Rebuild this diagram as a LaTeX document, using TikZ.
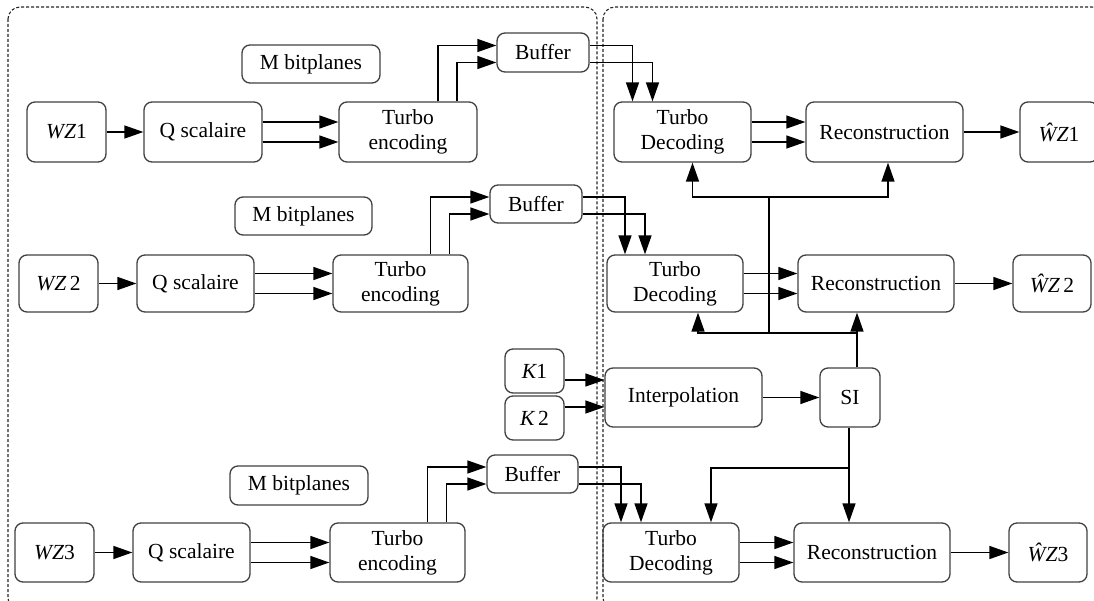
\documentclass[tikz,border=0pt]{standalone}
\usepackage{fontspec}
\setmainfont{Liberation Serif}
\newfontfamily\lserif{Liberation Serif}
\usetikzlibrary{arrows.meta,calc}
\begin{document}
\begin{tikzpicture}[x=1pt,y=-1pt,
  box/.style={draw=black!75, line width=1.3pt, rounded corners=8pt, inner sep=0pt, align=center, font=\lserif\fontsize{21.5}{25}\selectfont},
  arr/.style={line width=1.4pt, -{Triangle[length=19pt,width=13pt]}},
  ln/.style={line width=1.4pt},
  frm/.style={draw=black!85, line width=1.1pt, dash pattern=on 3pt off 2pt, rounded corners=12pt}]
\clip (0,0) rectangle (1094,601);
\useasboundingbox (0,0) rectangle (1094,601);

% frames
\draw[frm] (8,7) rectangle (597,610);
\draw[frm] (603,7) rectangle (1104,610);

% row 1
\node[box, minimum width=79pt, minimum height=60pt] (wz1) at (66.5,132) {{\itshape WZ}1};
\node[box, minimum width=118pt, minimum height=60pt] (q1) at (203,132) {Q scalaire};
\node[box, minimum width=138pt, minimum height=60pt] (te1) at (408,132) {Turbo\\encoding};
\node[box, minimum width=138pt, minimum height=38pt] (mb1) at (311,64) {M bitplanes};
\node[box, minimum width=92pt, minimum height=39pt] (buf1) at (543,52.5) {Buffer};
\node[box, minimum width=137pt, minimum height=60pt] (td1) at (682.5,132) {Turbo\\Decoding};
\node[box, minimum width=157pt, minimum height=60pt] (rc1) at (884.5,132) {Reconstruction};
\node[box, minimum width=78pt, minimum height=60pt] (out1) at (1059,132) {{\itshape ŴZ}1};

% row 2
\node[box, minimum width=79pt, minimum height=57pt] (wz2) at (58.5,283.5) {{\itshape WZ}\,2};
\node[box, minimum width=117pt, minimum height=57pt] (q2) at (195.5,283.5) {Q scalaire};
\node[box, minimum width=135pt, minimum height=57pt] (te2) at (400.5,283.5) {Turbo\\encoding};
\node[box, minimum width=137pt, minimum height=38pt] (mb2) at (303.5,216) {M bitplanes};
\node[box, minimum width=92pt, minimum height=38pt] (buf2) at (536,204) {Buffer};
\node[box, minimum width=136pt, minimum height=57pt] (td2) at (675,283.5) {Turbo\\Decoding};
\node[box, minimum width=156pt, minimum height=57pt] (rc2) at (876,283.5) {Reconstruction};
\node[box, minimum width=78pt, minimum height=57pt] (out2) at (1052,283.5) {{\itshape ŴZ}\,2};

% middle
\node[box, minimum width=59pt, minimum height=44pt] (k1) at (534.5,371) {{\itshape K}1};
\node[box, minimum width=59pt, minimum height=44pt] (k2) at (534.5,418) {{\itshape K}\,2};
\node[box, minimum width=157pt, minimum height=59pt] (interp) at (683.5,397.5) {Interpolation};
\node[box, minimum width=60pt, minimum height=59pt] (si) at (850,397.5) {SI};

% row 3
\node[box, minimum width=79pt, minimum height=59pt] (wz3) at (54.5,552.5) {{\itshape WZ}3};
\node[box, minimum width=117pt, minimum height=59pt] (q3) at (191.5,552.5) {Q scalaire};
\node[box, minimum width=135pt, minimum height=59pt] (te3) at (397.5,552.5) {Turbo\\encoding};
\node[box, minimum width=138pt, minimum height=39pt] (mb3) at (299,485.5) {M bitplanes};
\node[box, minimum width=91pt, minimum height=38pt] (buf3) at (532.5,474) {Buffer};
\node[box, minimum width=136pt, minimum height=59pt] (td3) at (671,552.5) {Turbo\\Decoding};
\node[box, minimum width=156pt, minimum height=59pt] (rc3) at (872,552.5) {Reconstruction};
\node[box, minimum width=78pt, minimum height=59pt] (out3) at (1048,552.5) {{\itshape ŴZ}3};

% row connectors
\foreach \r in {1,2,3}{
  \draw[arr] (wz\r.east) -- (q\r.west);
  \draw[arr] ([yshift=10pt]q\r.east) -- ([yshift=10pt]te\r.west);
  \draw[arr] ([yshift=-10pt]q\r.east) -- ([yshift=-10pt]te\r.west);
  \draw[arr] ([xshift=30pt]te\r.north) |- ([yshift=7pt]buf\r.west);
  \draw[arr] ([xshift=49pt]te\r.north) |- ([yshift=-10pt]buf\r.west);
  \draw[arr] ([yshift=7pt]buf\r.east) -| ([xshift=-50pt]td\r.north);
  \draw[arr] ([yshift=-10pt]buf\r.east) -| ([xshift=-30pt]td\r.north);
  \draw[arr] ([yshift=10pt]td\r.east) -- ([yshift=10pt]td\r.east -| rc\r.west);
  \draw[arr] ([yshift=-10pt]td\r.east) -- ([yshift=-10pt]td\r.east -| rc\r.west);
  \draw[arr] (rc\r.east) -- (out\r.west);
}

% K inputs
\draw[arr] ([yshift=-9pt]k1.east) -- ([yshift=-9pt]k1.east -| interp.west);
\draw[arr] ([yshift=11pt]k2.east) -- ([yshift=11pt]k2.east -| interp.west);
\draw[arr] (interp.east) -- (si.west);

% side information distribution
\coordinate (j2) at (857,333);
\coordinate (j1b) at (769,333);
\coordinate (j1) at (769,197);
\coordinate (j3) at (849,468);
\draw[arr] ([xshift=7pt]si.north) -- ([xshift=7pt]si.north |- rc2.south);
\draw[arr] (j2) -| ([xshift=23pt]td2.south);
\draw[ln] (j1b) -- (j1);
\draw[arr] (j1) -| ([xshift=10pt]td1.south);
\draw[arr] (j1) -| ([xshift=3.5pt]rc1.south);
\draw[arr] ([xshift=-1pt]si.south) -- ([xshift=-1pt]si.south |- rc3.north);
\draw[arr] (j3) -| ([xshift=40pt]td3.north);
\end{tikzpicture}
\end{document}
